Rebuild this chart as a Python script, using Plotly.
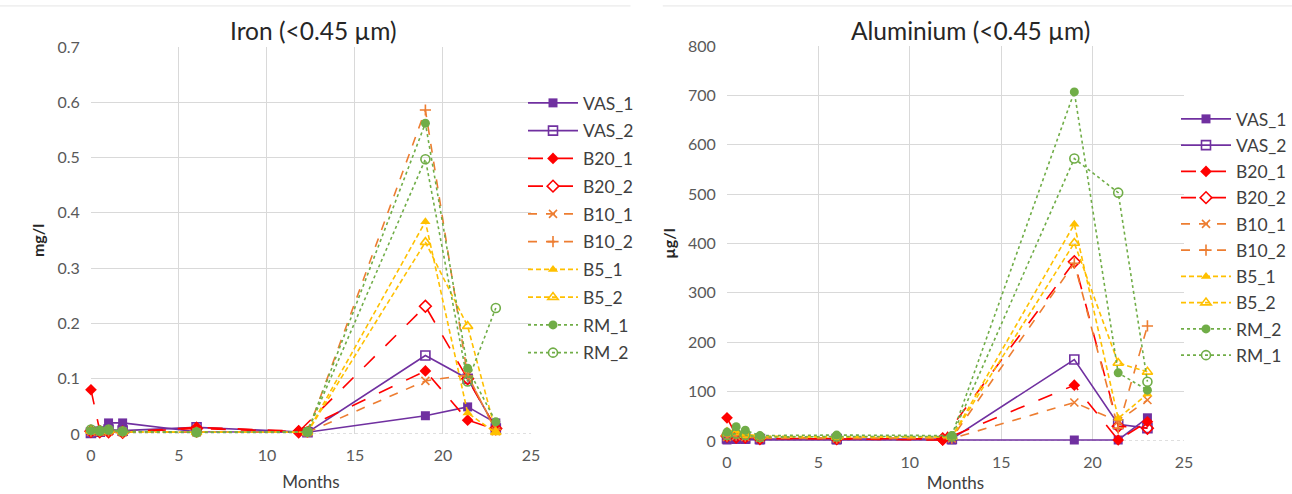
import plotly.graph_objects as go
from plotly.subplots import make_subplots

# Sampling times (months); the B20 columns were sampled slightly earlier at the 6th visit
months = [0, 0.5, 1, 1.8, 6, 12.3, 19, 21.4, 23]
months_b20 = [0, 0.5, 1, 1.8, 6, 11.8, 19, 21.4, 23]

# Dissolved iron, mg/l
fe_vas_1 = [0.003, 0.005, 0.020, 0.020, 0.004, 0.003, 0.033, 0.049, 0.020]
fe_vas_2 = [0.002, 0.004, 0.008, 0.006, 0.012, 0.003, 0.142, 0.100, 0.010]
fe_b20_1 = [0.080, 0.006, 0.005, 0.003, 0.012, 0.005, 0.114, 0.025, 0.008]
fe_b20_2 = [0.005, 0.004, 0.004, 0.003, 0.010, 0.004, 0.231, 0.100, 0.010]
fe_b10_1 = [0.004, 0.004, 0.004, 0.003, 0.003, 0.003, 0.096, 0.107, 0.005]
fe_b10_2 = [0.005, 0.005, 0.005, 0.003, 0.003, 0.003, 0.586, 0.105, 0.008]
fe_b5_1 = [0.005, 0.005, 0.008, 0.004, 0.003, 0.003, 0.384, 0.038, 0.002]
fe_b5_2 = [0.006, 0.005, 0.006, 0.004, 0.003, 0.003, 0.347, 0.195, 0.003]
fe_rm_1 = [0.006, 0.005, 0.007, 0.004, 0.003, 0.004, 0.562, 0.119, 0.022]
fe_rm_2 = [0.008, 0.006, 0.008, 0.005, 0.003, 0.004, 0.497, 0.095, 0.228]

# Dissolved aluminium, µg/l
al_vas_1 = [2, 3, 3, 2, 2, 2, 2, 2, 47]
al_vas_2 = [5, 6, 5, 4, 4, 4, 165, 34, 26]
al_b20_1 = [47, 12, 10, 5, 4, 2, 113, 2, 39]
al_b20_2 = [10, 8, 8, 5, 5, 4, 363, 30, 26]
al_b10_1 = [8, 10, 8, 6, 5, 5, 78, 40, 83]
al_b10_2 = [10, 12, 10, 7, 6, 6, 360, 26, 233]
al_b5_1 = [20, 22, 14, 10, 8, 8, 439, 46, 95]
al_b5_2 = [16, 18, 12, 9, 8, 8, 401, 158, 140]
al_rm_2 = [18, 29, 22, 11, 12, 11, 707, 138, 103]
al_rm_1 = [12, 15, 12, 8, 9, 9, 572, 503, 120]

PURPLE = "#7030A0"
RED = "#FF0000"
ORANGE = "#ED7D31"
GOLD = "#FFC000"
GREEN = "#70AD47"

FONT = "Lato, 'Open Sans', sans-serif"

# colour, dash, marker symbol
styles = {
    "VAS_1": (PURPLE, "solid", "square"),
    "VAS_2": (PURPLE, "solid", "square-open"),
    "B20_1": (RED, "longdash", "diamond"),
    "B20_2": (RED, "longdash", "diamond-open"),
    "B10_1": (ORANGE, "dash", "x-thin-open"),
    "B10_2": (ORANGE, "dash", "cross-thin-open"),
    "B5_1": (GOLD, "5px,3px", "triangle-up"),
    "B5_2": (GOLD, "5px,3px", "triangle-up-open"),
    "RM_1": (GREEN, "dot", "circle"),
    "RM_2": (GREEN, "dot", "circle-open"),
}

iron = [
    ("VAS_1", months, fe_vas_1, "VAS_1"),
    ("VAS_2", months, fe_vas_2, "VAS_2"),
    ("B20_1", months_b20, fe_b20_1, "B20_1"),
    ("B20_2", months_b20, fe_b20_2, "B20_2"),
    ("B10_1", months, fe_b10_1, "B10_1"),
    ("B10_2", months, fe_b10_2, "B10_2"),
    ("B5_1", months, fe_b5_1, "B5_1"),
    ("B5_2", months, fe_b5_2, "B5_2"),
    ("RM_1", months, fe_rm_1, "RM_1"),
    ("RM_2", months, fe_rm_2, "RM_2"),
]
aluminium = [
    ("VAS_1", months, al_vas_1, "VAS_1"),
    ("VAS_2", months, al_vas_2, "VAS_2"),
    ("B20_1", months_b20, al_b20_1, "B20_1"),
    ("B20_2", months_b20, al_b20_2, "B20_2"),
    ("B10_1", months, al_b10_1, "B10_1"),
    ("B10_2", months, al_b10_2, "B10_2"),
    ("B5_1", months, al_b5_1, "B5_1"),
    ("B5_2", months, al_b5_2, "B5_2"),
    ("RM_2", months, al_rm_2, "RM_1"),
    ("RM_1", months, al_rm_1, "RM_2"),
]

fig = make_subplots(rows=1, cols=2)


def add_series(series, col, legend):
    for name, xs, ys, style_key in series:
        color, dash, symbol = styles[style_key]
        open_sym = "open" in symbol
        fig.add_trace(
            go.Scatter(
                x=xs, y=ys, name=name, mode="lines+markers",
                line=dict(color=color, width=1.6, dash=dash),
                marker=dict(symbol=symbol, size=9 if "thin" not in symbol else 8,
                            color=color,
                            line=dict(color=color, width=1.6 if open_sym else 0)),
                legend=legend, legendgroup=legend + name, cliponaxis=False,
            ),
            row=1, col=col,
        )


add_series(iron, 1, "legend")
add_series(aluminium, 2, "legend2")

axis_common = dict(
    showgrid=True, gridcolor="#D9D9D9", gridwidth=1,
    zeroline=False, showline=False, automargin=False,
    ticks="outside", ticklen=7, tickcolor="rgba(0,0,0,0)",
    tickfont=dict(family=FONT, size=16, color="#595959"),
)
title_font = dict(family=FONT, size=17, color="#404040")

fig.update_xaxes(range=[0, 25], dtick=5, **axis_common)
fig.update_yaxes(**axis_common)
fig.update_xaxes(domain=[0.0704, 0.4110], row=1, col=1,
                 title=dict(text="Months", standoff=12, font=title_font))
fig.update_xaxes(domain=[0.5627, 0.9164], row=1, col=2,
                 title=dict(text="Months", standoff=6, font=title_font))
fig.update_yaxes(domain=[0.1215, 0.9049], range=[0, 0.7], dtick=0.1, row=1, col=1,
                 title=dict(text="<b>mg/l</b>", standoff=8,
                            font=dict(family=FONT, size=16, color="#262626")))
fig.update_yaxes(domain=[0.1073, 0.9069], range=[0, 800], dtick=100, row=1, col=2,
                 title=dict(text="<b>µg/l</b>", standoff=8,
                            font=dict(family=FONT, size=16, color="#262626")))

# Dotted baseline along the x axis
for xref, yref in (("x", "y"), ("x2", "y2")):
    fig.add_shape(type="line", xref=xref, yref=yref, x0=0, x1=25, y0=0, y1=0,
                  line=dict(color="#BFBFBF", width=1.2, dash="dot"), layer="below")

# Chart panel top edges
fig.add_shape(type="line", xref="paper", yref="paper", x0=0.0, x1=0.488, y0=0.988, y1=0.988,
              line=dict(color="#E6E6E6", width=1))
fig.add_shape(type="line", xref="paper", yref="paper", x0=0.513, x1=1.0, y0=0.988, y1=0.988,
              line=dict(color="#E6E6E6", width=1))

fig.add_annotation(text="Iron (<0.45 µm)", xref="paper", yref="paper",
                   x=313 / 1292, y=1 - 30 / 494, xanchor="center", yanchor="middle",
                   showarrow=False, font=dict(family=FONT, size=24.5, color="#262626"))
fig.add_annotation(text="Aluminium (<0.45 µm)", xref="paper", yref="paper",
                   x=970 / 1292, y=1 - 30 / 494, xanchor="center", yanchor="middle",
                   showarrow=False, font=dict(family=FONT, size=24.5, color="#262626"))

legend_common = dict(
    font=dict(family=FONT, size=17.5, color="#404040"),
    bgcolor="rgba(0,0,0,0)", borderwidth=0,
    xanchor="left", yanchor="top", itemwidth=50,
)
fig.update_layout(
    width=1292, height=494,
    margin=dict(l=0, r=0, t=0, b=0),
    paper_bgcolor="white", plot_bgcolor="white",
    font=dict(family=FONT),
    legend=dict(x=523 / 1292, y=1 - 85 / 494, tracegroupgap=2, **legend_common),
    legend2=dict(x=1176 / 1292, y=1 - 101 / 494, tracegroupgap=0.5, **legend_common),
)

fig.write_html("out.html")
